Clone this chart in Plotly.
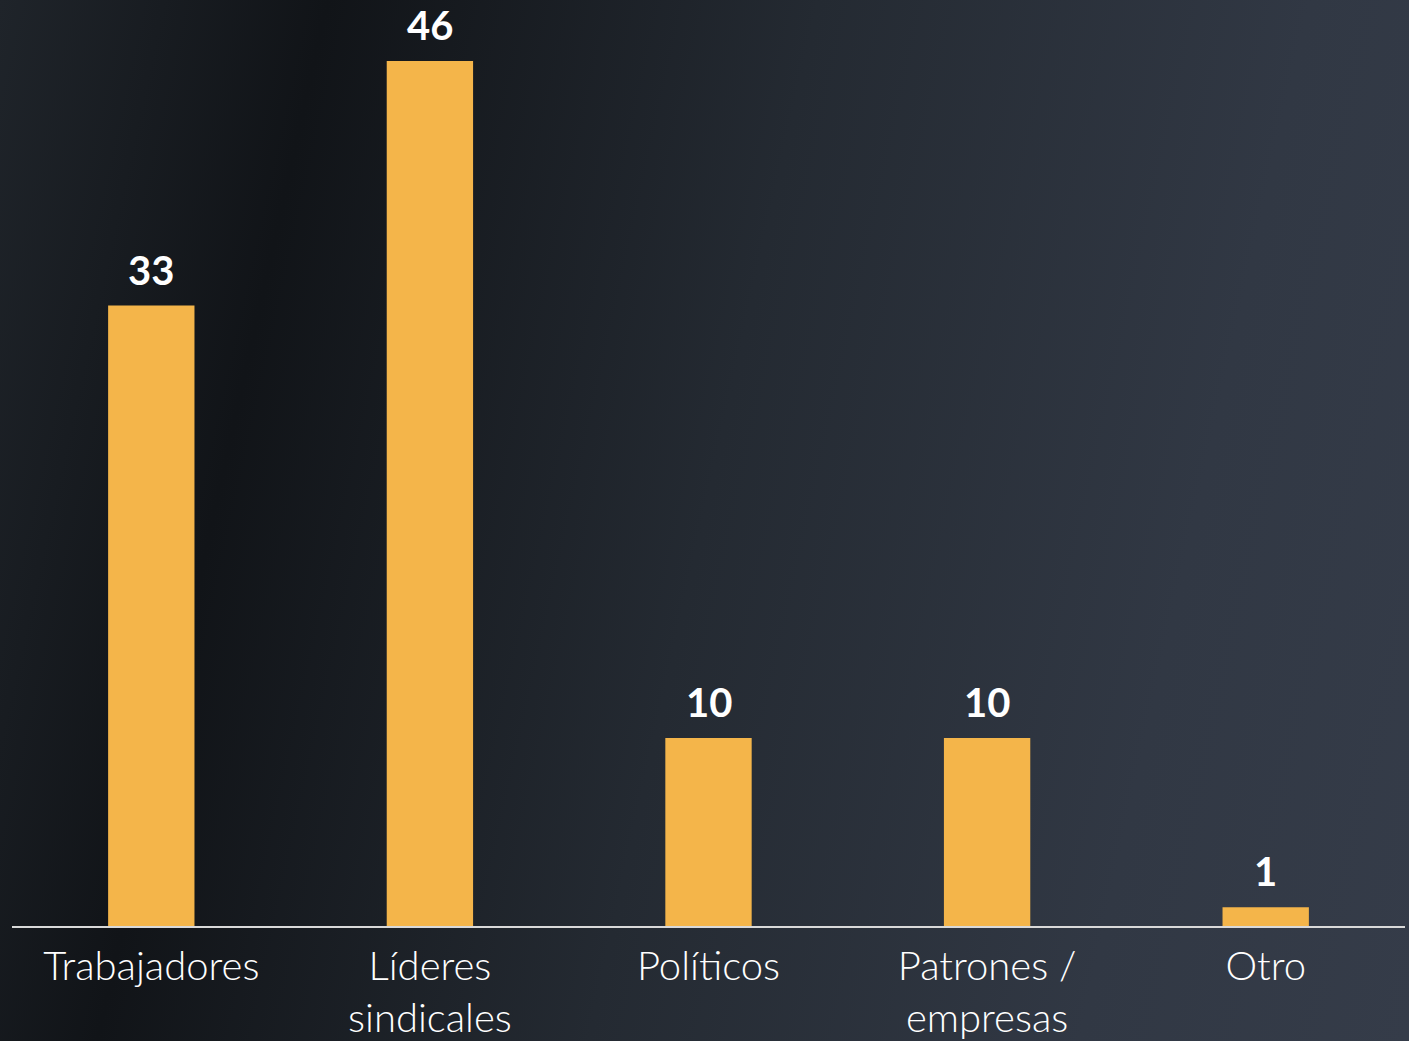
import plotly.graph_objects as go
import base64

categories = ["Trabajadores", "Líderes<br>sindicales", "Políticos", "Patrones /<br>empresas", "Otro"]
values = [33, 46, 10, 10, 1]
value_labels = ["33", "46", "10", "10", "1"]

W, H = 1409, 1041
BAR_COLOR = "#F4B54A"

svg = f'''<svg xmlns="http://www.w3.org/2000/svg" width="{W}" height="{H}" viewBox="0 0 {W} {H}">
<defs><linearGradient id="g" gradientUnits="userSpaceOnUse" x1="0" y1="0" x2="1562" y2="346">
<stop offset="0" stop-color="#1f242a"/>
<stop offset="0.2" stop-color="#111418"/>
<stop offset="0.5" stop-color="#242a32"/>
<stop offset="0.8" stop-color="#313844"/>
<stop offset="1" stop-color="#353c49"/>
</linearGradient></defs>
<rect width="{W}" height="{H}" fill="url(#g)"/>
</svg>'''
bg_uri = "data:image/svg+xml;base64," + base64.b64encode(svg.encode()).decode()

fig = go.Figure()
fig.add_trace(go.Bar(
    x=categories, y=values,
    marker=dict(color=BAR_COLOR, line=dict(width=0)),
    hoverinfo="skip",
))

for c, v, t in zip(categories, values, value_labels):
    fig.add_annotation(x=c, y=v, text=f"<b>{t}</b>", showarrow=False,
                       yanchor="bottom", yshift=10,
                       font=dict(family="Lato", size=40, color="white"))

fig.update_layout(
    width=W, height=H,
    margin=dict(l=12, r=4, t=0, b=115),
    paper_bgcolor="#1c2026",
    plot_bgcolor="rgba(0,0,0,0)",
    bargap=0.69,
    showlegend=False,
    images=[dict(source=bg_uri, xref="paper", yref="paper", x=-12/1393, y=1,
                 sizex=W/1393, sizey=H/926, xanchor="left", yanchor="top",
                 sizing="stretch", layer="below")],
    xaxis=dict(showline=True, linecolor="#d9d9d9", linewidth=2, showgrid=False,
               ticks="", ticklabelstandoff=4, automargin=False,
               tickfont=dict(family="Lato", size=40, color="white", weight=300)),
    yaxis=dict(visible=False, range=[0, 49.25], showgrid=False, zeroline=False,
               automargin=False),
)

fig.write_html("out.html", config={"displayModeBar": False},
               post_script="document.body.style.margin='0';document.body.style.overflow='hidden';")
